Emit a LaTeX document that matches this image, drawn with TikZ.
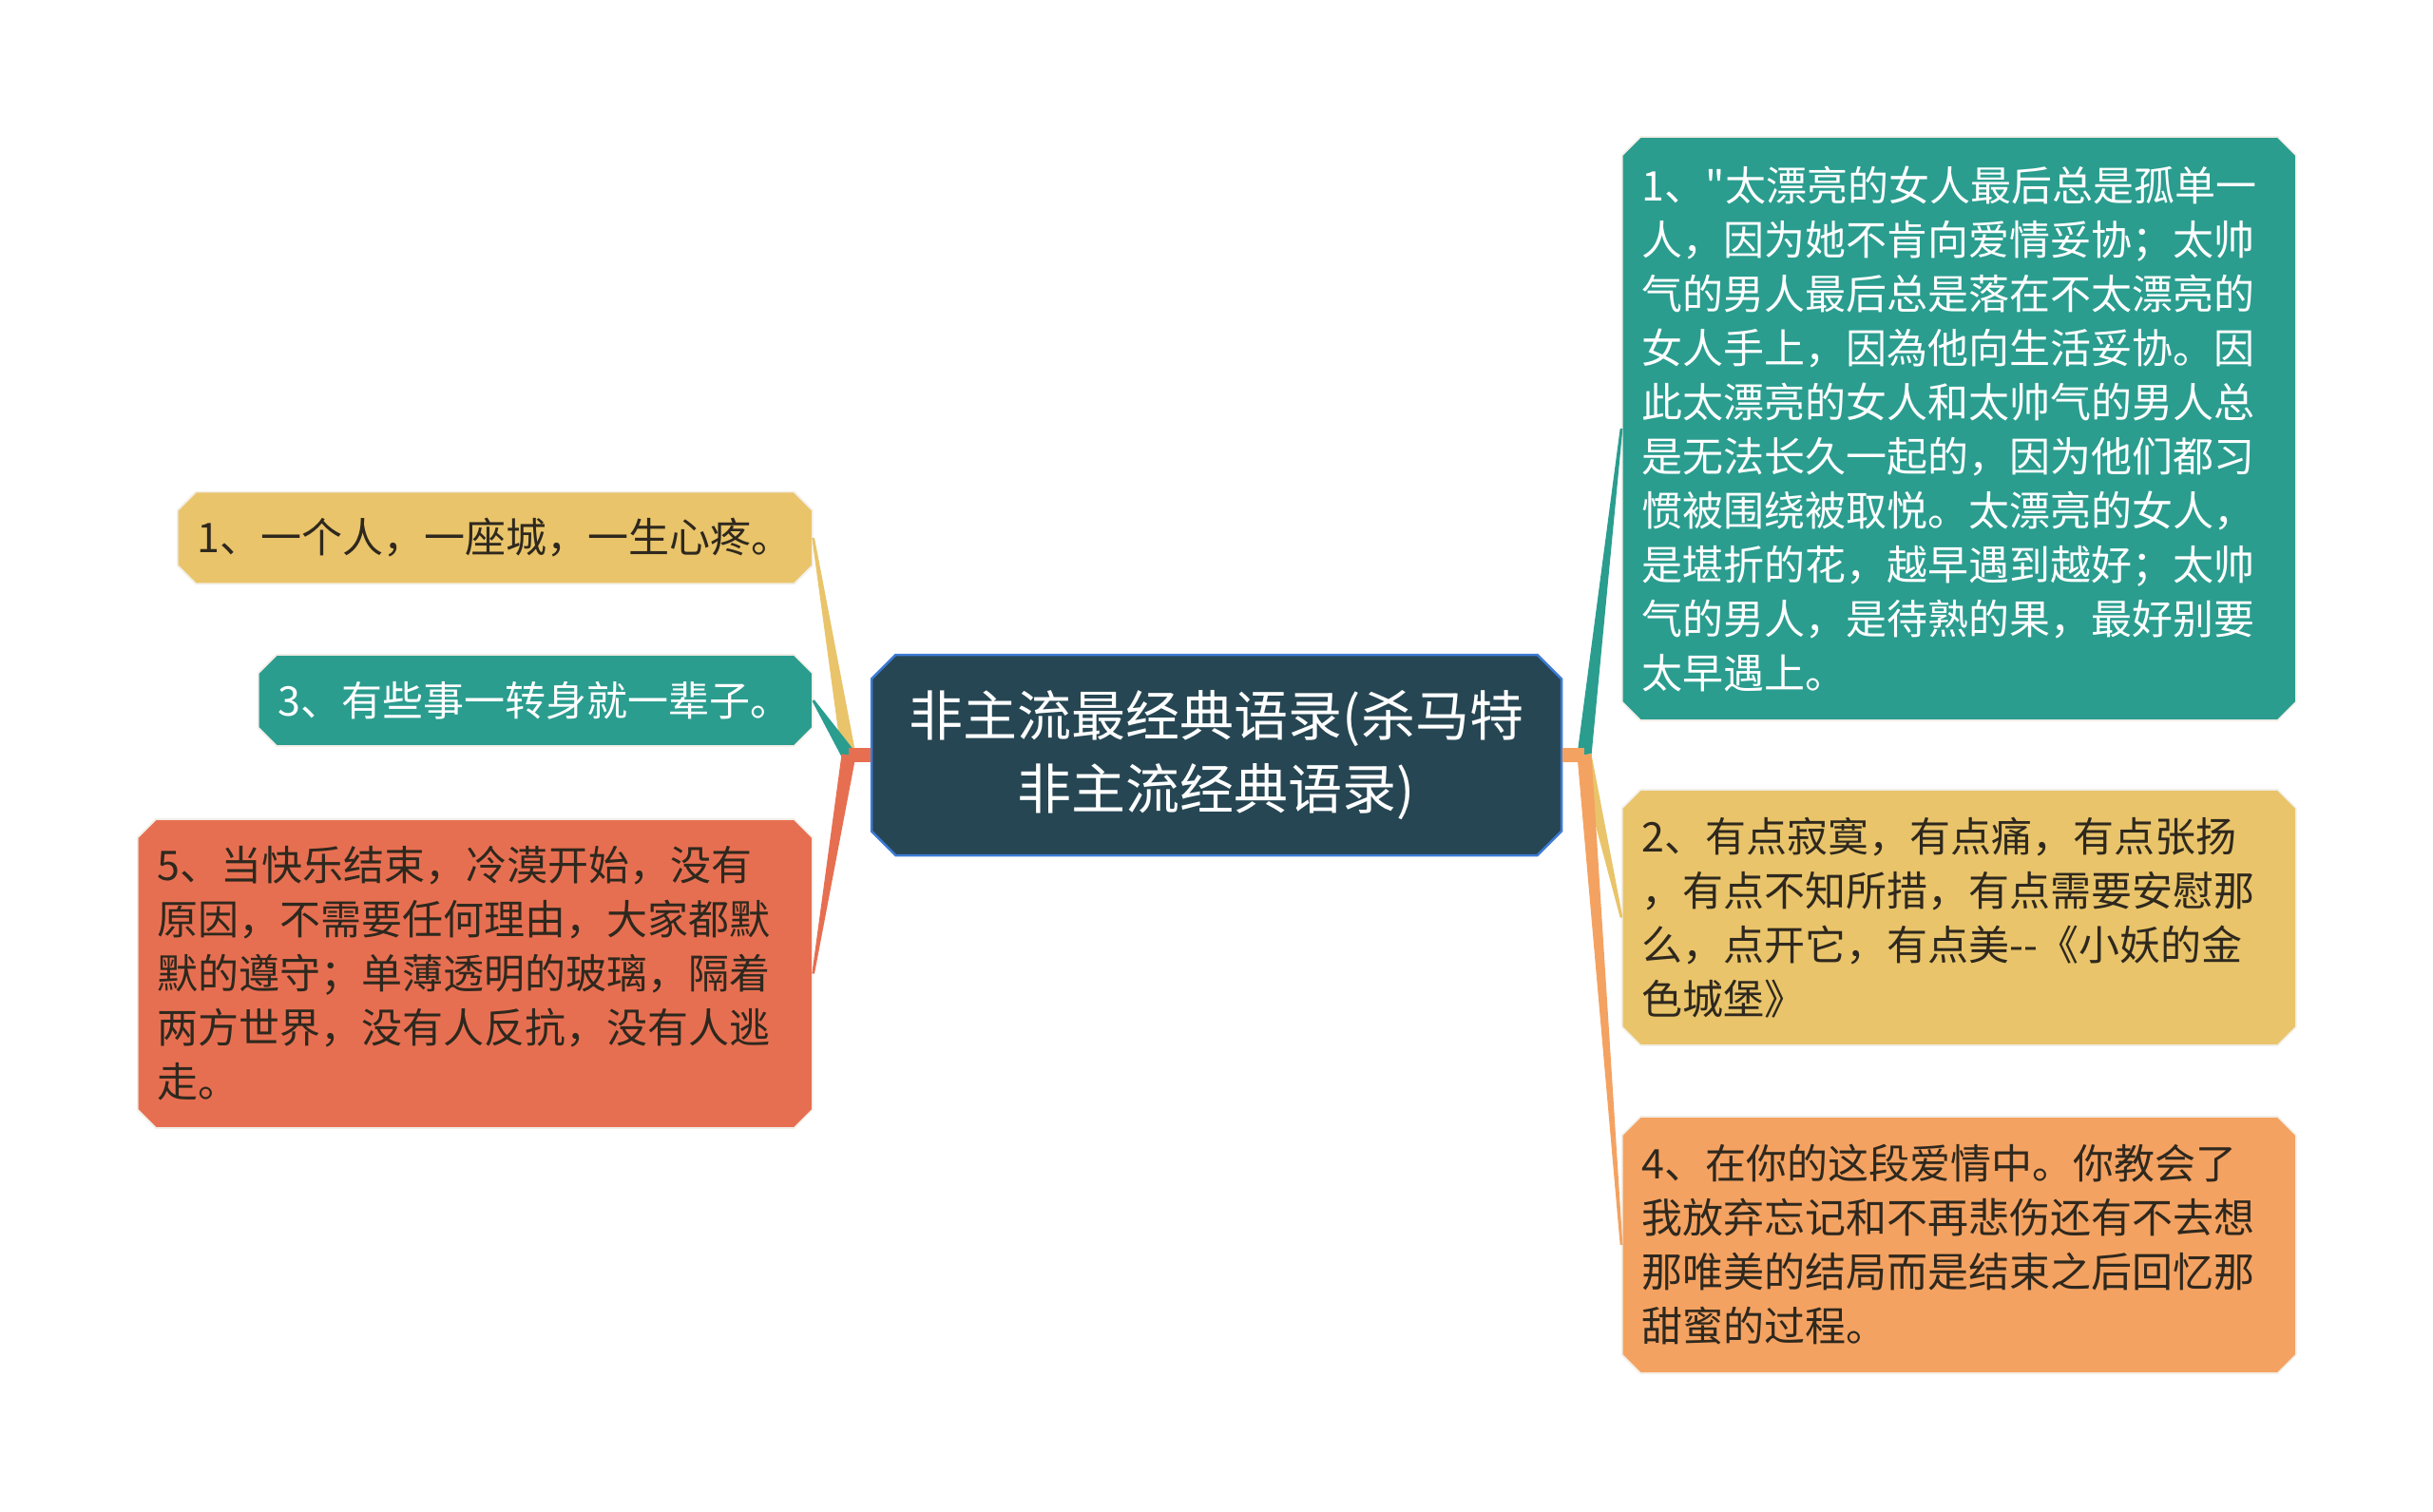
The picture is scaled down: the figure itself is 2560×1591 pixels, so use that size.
\documentclass[tikz,border=0pt]{standalone}
\usepackage{fontspec}
\newfontfamily\cjkfont{Noto Sans CJK SC}
\usepackage{tikz}
\usetikzlibrary{shapes.misc,calc}

\definecolor{mmdark}{HTML}{264653}
\definecolor{mmteal}{HTML}{2A9D8F}
\definecolor{mmyellow}{HTML}{E9C46A}
\definecolor{mmorange}{HTML}{F4A261}
\definecolor{mmred}{HTML}{E76F51}
\definecolor{mmblue}{HTML}{3D7BD6}
\definecolor{mmink}{HTML}{2E281E}
\definecolor{mmedge}{HTML}{F2EEE6}

\tikzset{
	topic/.style={chamfered rectangle, chamfered rectangle xsep=3.8pt, chamfered rectangle ysep=3.8pt, fill=mmdark, draw=mmblue, line width=0.75pt, text=white, align=center, inner sep=0pt, minimum width=217.8pt, minimum height=63.3pt, font=\cjkfont\fontsize{17.1pt}{23.1pt}\selectfont},
	leaf/.style={chamfered rectangle, chamfered rectangle xsep=2.9pt, chamfered rectangle ysep=2.9pt, draw=mmedge, line width=0.5pt, inner xsep=3.4pt, inner ysep=0pt, align=left, anchor=west, font=\cjkfont\fontsize{12.9pt}{17.1pt}\selectfont},
	yleaf/.style={leaf, fill=mmyellow, text=mmink},
	tleaf/.style={leaf, fill=mmteal, text=white},
	oleaf/.style={leaf, fill=mmorange, text=mmink},
	rleaf/.style={leaf, fill=mmred, text=mmink}
}

\newcommand{\branch}[4]{%
	\fill[#1] ($(#2)+(0,2.25pt)$) rectangle ($(#3)-(0,2.25pt)$);
	\fill[#1] ($(#3)!2.25pt!90:(#4)$) -- ($(#4)!0.4pt!-90:(#3)$) -- ($(#4)!0.4pt!90:(#3)$) -- ($(#3)!2.25pt!-90:(#4)$) -- cycle;
}

\begin{document}
\begin{tikzpicture}[x=0.3pt,y=-0.3pt]
	\useasboundingbox[fill=white] (0,0) rectangle (2560,1591);
	\node[topic] (main) at (1280,794.5) {非主流最经典语录(杀马特\\非主流经典语录)};
	\coordinate (lhub) at (893,794.5);
	\coordinate (rhub) at (1667,794.5);

	\node[yleaf, text width=187.8pt, minimum height=29pt] (l1) at (186,566) {1、一个人，一座城，一生心疼。};
	\node[tleaf, text width=162.3pt, minimum height=28.8pt] (l3) at (271,737) {3、有些事一转身就一辈子。};
	\node[rleaf, text width=200.4pt, minimum height=97.5pt] (l5) at (144,1024.5) {5、当快乐结束，冷漠开始，没有\\原因，不需要任何理由，大家都默\\默的遵守；单薄透明的玻璃，隔着\\两方世界，没有人反抗，没有人逃\\走。};

	\node[tleaf, text width=200.1pt, minimum height=184.2pt] (r1) at (1706,451) {1、"太漂亮的女人最后总是孤单一\\人，因为她不肯向爱情妥协；太帅\\气的男人最后总是落在不太漂亮的\\女人手上，因為他向生活妥协。因\\此太漂亮的女人和太帅气的男人总\\是无法长久一起的，因为他们都习\\惯被围绕被取悦。太漂亮的女人，\\是堪折的花，越早遇到越好；太帅\\气的男人，是待熟的果，最好别要\\太早遇上。};
	\node[yleaf, text width=200.1pt, minimum height=80.7pt] (r2) at (1706,965.5) {2、有点寂寞，有点痛，有点张扬\\，有点不知所措，有点需要安慰那\\么，点开它，有点美--《小妖的金\\色城堡》};
	\node[oleaf, text width=200.1pt, minimum height=81pt] (r4) at (1706,1310) {4、在你的这段爱情中。你教会了\\我放弃忘记和不再悲伤还有不去想\\那唯美的结局而是结束之后回忆那\\甜蜜的过程。};

	\branch{mmyellow}{main.west}{lhub}{l1.east}
	\branch{mmteal}{main.west}{lhub}{l3.east}
	\branch{mmred}{main.west}{lhub}{l5.east}
	\branch{mmteal}{main.east}{rhub}{r1.west}
	\branch{mmyellow}{main.east}{rhub}{r2.west}
	\branch{mmorange}{main.east}{rhub}{r4.west}
\end{tikzpicture}
\end{document}
